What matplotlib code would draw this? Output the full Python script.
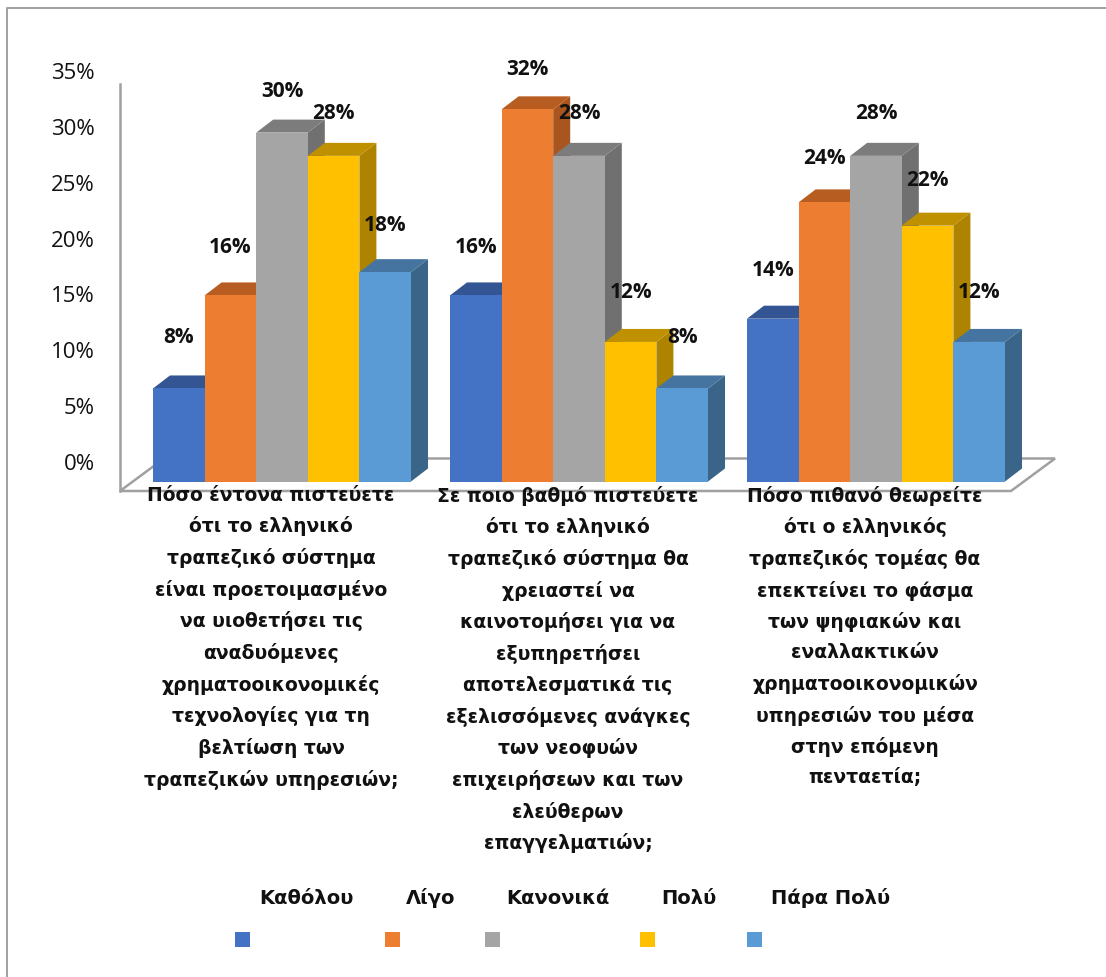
import matplotlib
matplotlib.use("Agg")
import matplotlib.pyplot as plt
from matplotlib.patches import Polygon, Rectangle
from matplotlib.transforms import blended_transform_factory
from matplotlib.lines import Line2D

W, H = 1106, 977

series_names = ["Καθόλου", "Λίγο", "Κανονικά", "Πολύ", "Πάρα Πολύ"]
series_values = [
    [8, 16, 14],
    [16, 32, 24],
    [30, 28, 28],
    [28, 12, 22],
    [18, 8, 12],
]
categories = [
    "Πόσο έντονα πιστεύετε\nότι το ελληνικό\nτραπεζικό σύστημα\nείναι προετοιμασμένο\nνα υιοθετήσει τις\nαναδυόμενες\nχρηματοοικονομικές\nτεχνολογίες για τη\nβελτίωση των\nτραπεζικών υπηρεσιών;",
    "Σε ποιο βαθμό πιστεύετε\nότι το ελληνικό\nτραπεζικό σύστημα θα\nχρειαστεί να\nκαινοτομήσει για να\nεξυπηρετήσει\nαποτελεσματικά τις\nεξελισσόμενες ανάγκες\nτων νεοφυών\nεπιχειρήσεων και των\nελεύθερων\nεπαγγελματιών;",
    "Πόσο πιθανό θεωρείτε\nότι ο ελληνικός\nτραπεζικός τομέας θα\nεπεκτείνει το φάσμα\nτων ψηφιακών και\nεναλλακτικών\nχρηματοοικονομικών\nυπηρεσιών του μέσα\nστην επόμενη\nπενταετία;",
]
y_ticks = [0, 5, 10, 15, 20, 25, 30, 35]

front = ["#4472C4", "#ED7D31", "#A5A5A5", "#FFC000", "#5B9BD5"]
top = ["#335593", "#B85D22", "#7C7C7C", "#BF9000", "#44749F"]
side = ["#2F5088", "#A9551F", "#707070", "#AE8300", "#3A6588"]
legend_text_x = [306, 431, 558, 689, 831]
legend_box_x = [235, 385, 485, 640, 747]

plt.rcParams["font.family"] = ["Open Sans", "DejaVu Sans"]
fig = plt.figure(figsize=(W / 100, H / 100), dpi=100)


def box(l, t, r, b):
    return [l / W, 1 - b / H, (r - l) / W, (b - t) / H]


PX_PER_PCT = 11.63
BAR_PX = 51.6
PITCH = 297 / BAR_PX
CENTER0 = 282
ax_top = 481.5 - 35 * PX_PER_PCT
ax = fig.add_axes(box(120, ax_top, 1055, 481.5))
ax.set_xlim((120 - CENTER0) / BAR_PX, (1055 - CENTER0) / BAR_PX)
ax.set_ylim(0, 35)
ax.patch.set_alpha(0)
for s in ax.spines.values():
    s.set_visible(False)
ax.set_yticks([])

# wall axis carrying the percentage scale
WALL_PX = 55.86 / 5
wall = fig.add_axes(box(120, 60, 121, 491), zorder=-1)
wall.set_ylim((462 - 491) / WALL_PX, (462 - 60) / WALL_PX)
wall.set_xticks([])
wall.set_yticks(y_ticks)
wall.set_yticklabels([f"{v}%" for v in y_ticks], fontsize=16, color="#111111")
wall.tick_params(axis="y", length=0, pad=18)
for n in ["top", "right", "bottom"]:
    wall.spines[n].set_visible(False)
wall.spines["left"].set_color("#A0A0A0")
wall.spines["left"].set_linewidth(1.8)
wall.spines["left"].set_bounds((462 - 491) / WALL_PX, (462 - 84) / WALL_PX)
wall.patch.set_alpha(0)

DX = 17 / BAR_PX
DY = 13 / PX_PER_PCT

# floor outline
px2x = lambda p: (p - CENTER0) / BAR_PX
py2y = lambda p: (481.5 - p) / PX_PER_PCT
floor = [(px2x(120), py2y(491)), (px2x(1011), py2y(491)), (px2x(1055), py2y(458.5)),
         (px2x(164), py2y(458.5))]
ax.add_patch(Polygon(floor, closed=True, fill=False, edgecolor="#A0A0A0", lw=1.8,
                     clip_on=False, zorder=1))

label_x = blended_transform_factory(ax.transData, wall.transData)
n = len(series_values)
centers = [g * PITCH for g in range(len(categories))]
for j, (vals, fc, tc, sc) in enumerate(zip(series_values, front, top, side)):
    xs = [c + j - (n - 1) / 2 for c in centers]
    # side and top faces first, then the front face
    for x, v in zip(xs, vals):
        r = x + 0.5
        l = x - 0.5
        ax.add_patch(Polygon([(r, 0), (r + DX, DY), (r + DX, v + DY), (r, v)], closed=True,
                             facecolor=sc, edgecolor="none", clip_on=False, zorder=2 + j))
        ax.add_patch(Polygon([(l, v), (l + DX, v + DY), (r + DX, v + DY), (r, v)], closed=True,
                             facecolor=tc, edgecolor="none", clip_on=False, zorder=2 + j))
    ax.bar(xs, vals, width=1.0, color=fc, edgecolor="none", zorder=2 + j + 0.5, clip_on=False)
    for x, v in zip(xs, vals):
        ax.text(x, v + 3.17, f"{v}%", transform=label_x, ha="center", va="center",
                fontsize=15, fontweight="bold", color="#111111", zorder=20, clip_on=False)

ax.set_xticks([c - 11 / BAR_PX for c in centers])
ax.set_xticklabels(categories, fontsize=13.5, fontweight="bold", color="#111111",
                   linespacing=1.73, ha="center", va="top", family="DejaVu Sans")
ax.tick_params(axis="x", length=0, pad=3)
for t in ax.get_xticklabels():
    t.set_zorder(25)

# hand-placed legend
for name, tx, bx, c in zip(series_names, legend_text_x, legend_box_x, front):
    fig.text(tx / W, 1 - 904 / H, name, ha="center", va="baseline", fontsize=14,
             fontweight="bold", color="#111111", family="DejaVu Sans")
    fig.add_artist(Rectangle((bx / W, 1 - 947 / H), 15 / W, 15 / H, transform=fig.transFigure,
                             facecolor=c, edgecolor="none"))

# outer frame
fig.add_artist(Line2D([6.5 / W, 6.5 / W, 1], [0, 1 - 7.5 / H, 1 - 7.5 / H],
                      transform=fig.transFigure, color="#A0A0A0", lw=1.4))

fig.savefig("out.png", dpi=100)
